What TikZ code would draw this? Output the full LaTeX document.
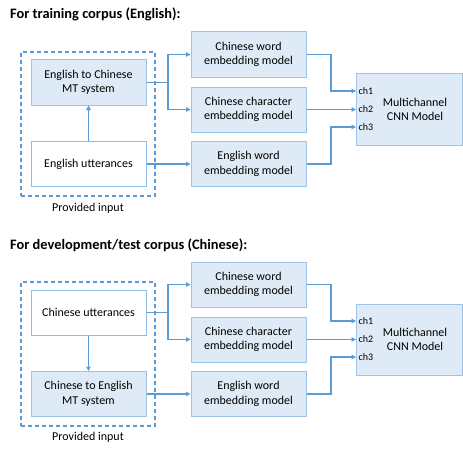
\documentclass[tikz,border=0pt]{standalone}
\usepackage{fontspec}
\setmainfont{Carlito}
\usetikzlibrary{arrows.meta,calc,fit}
\definecolor{boxfill}{HTML}{DEEBF7}
\definecolor{boxline}{HTML}{9DC3E6}
\definecolor{arrowc}{HTML}{5B9BD5}
\definecolor{dashc}{HTML}{5B9BD5}
\tikzset{
  x=1pt, y=-1pt,
  bluebox/.style={draw=boxline, fill=boxfill, line width=1pt, minimum width=115pt, minimum height=45pt, inner sep=0pt, align=center, font=\fontsize{12}{14.5}\selectfont},
  whitebox/.style={bluebox, fill=white, draw=boxline!80!arrowc},
  cnnbox/.style={draw=boxline, fill=boxfill, line width=1pt, minimum width=106pt, minimum height=71pt, inner sep=0pt},
  txt/.style={align=center, inner sep=0pt, font=\fontsize{12}{14.5}\selectfont},
  chlab/.style={anchor=west, inner sep=0pt, font=\fontsize{10}{12}\selectfont},
  title/.style={anchor=west, inner sep=0pt, font=\fontsize{14.4}{17}\selectfont\bfseries},
  conn/.style={draw=arrowc, line width=1.1pt, -{Triangle[length=4.5pt,width=4.5pt]}},
  dashbox/.style={draw=dashc, dashed, dash pattern=on 4pt off 3pt, line width=1.1pt, inner sep=0pt},
}
\begin{document}
\begin{tikzpicture}
\useasboundingbox (0,0) rectangle (463,452);
% ---------- Top block ----------
\node[title] (t1) at (10,14) {For training corpus (English):};
\node[bluebox] (mt1) at (88.5,82.5) {English to Chinese\\MT system};
\node[whitebox] (utt1) at (88.5,164) {English utterances};
\node[bluebox] (cw1) at (248.5,54.5) {Chinese word\\embedding model};
\node[bluebox] (cc1) at (248.5,109.5) {Chinese character\\embedding model};
\node[bluebox] (ew1) at (248.5,164) {English word\\embedding model};
\node[cnnbox] (cnn1) at (409,109.5) {};
\node[txt] (cnnt1) at (415,109.5) {Multichannel\\CNN Model};
\coordinate (dA1) at (21,52);
\coordinate (dB1) at (155,196);
\node[dashbox, fit=(dA1)(dB1)] (prov1) {};
\node[txt] (pl1) at (88,208) {Provided input};
\coordinate (in11) at (356,91);
\coordinate (in21) at (356,109.5);
\coordinate (in31) at (356,127);
\node[chlab] (ch11) at (358.5,91) {ch1};
\node[chlab] (ch21) at (358.5,109.5) {ch2};
\node[chlab] (ch31) at (358.5,127) {ch3};
\coordinate (br1) at (168,82.5);
\draw[conn] (utt1.north) -- (mt1.south);
\draw[draw=arrowc, line width=1.1pt] (mt1.east) -- (br1);
\draw[conn] (br1) |- (cw1.west);
\draw[conn] (br1) |- (cc1.west);
\draw[conn] (utt1.east) -- (ew1.west);
\draw[conn] (cw1.east) -| (331,91) -- (in11);
\draw[conn] (cc1.east) -- (in21);
\draw[conn] (ew1.east) -| (331,127) -- (in31);
% ---------- Bottom block ----------
\begin{scope}[yshift=-230pt]
\node[title] (t2) at (10,15) {For development/test corpus (Chinese):};
\node[whitebox] (utt2) at (88.5,82.5) {Chinese utterances};
\node[bluebox] (mt2) at (88.5,164) {Chinese to English\\MT system};
\node[bluebox] (cw2) at (248.5,54.5) {Chinese word\\embedding model};
\node[bluebox] (cc2) at (248.5,109.5) {Chinese character\\embedding model};
\node[bluebox] (ew2) at (248.5,164) {English word\\embedding model};
\node[cnnbox] (cnn2) at (409,109.5) {};
\node[txt] (cnnt2) at (415,109.5) {Multichannel\\CNN Model};
\coordinate (dA2) at (21,52);
\coordinate (dB2) at (155,196);
\node[dashbox, fit=(dA2)(dB2)] (prov2) {};
\node[txt] (pl2) at (88,207) {Provided input};
\coordinate (in12) at (356,91);
\coordinate (in22) at (356,109.5);
\coordinate (in32) at (356,127);
\node[chlab] (ch12) at (358.5,91) {ch1};
\node[chlab] (ch22) at (358.5,109.5) {ch2};
\node[chlab] (ch32) at (358.5,127) {ch3};
\coordinate (br2) at (168,82.5);
\draw[conn] (utt2.south) -- (mt2.north);
\draw[draw=arrowc, line width=1.1pt] (utt2.east) -- (br2);
\draw[conn] (br2) |- (cw2.west);
\draw[conn] (br2) |- (cc2.west);
\draw[conn] (mt2.east) -- (ew2.west);
\draw[conn] (cw2.east) -| (331,91) -- (in12);
\draw[conn] (cc2.east) -- (in22);
\draw[conn] (ew2.east) -| (331,127) -- (in32);
\end{scope}
\end{tikzpicture}
\end{document}
